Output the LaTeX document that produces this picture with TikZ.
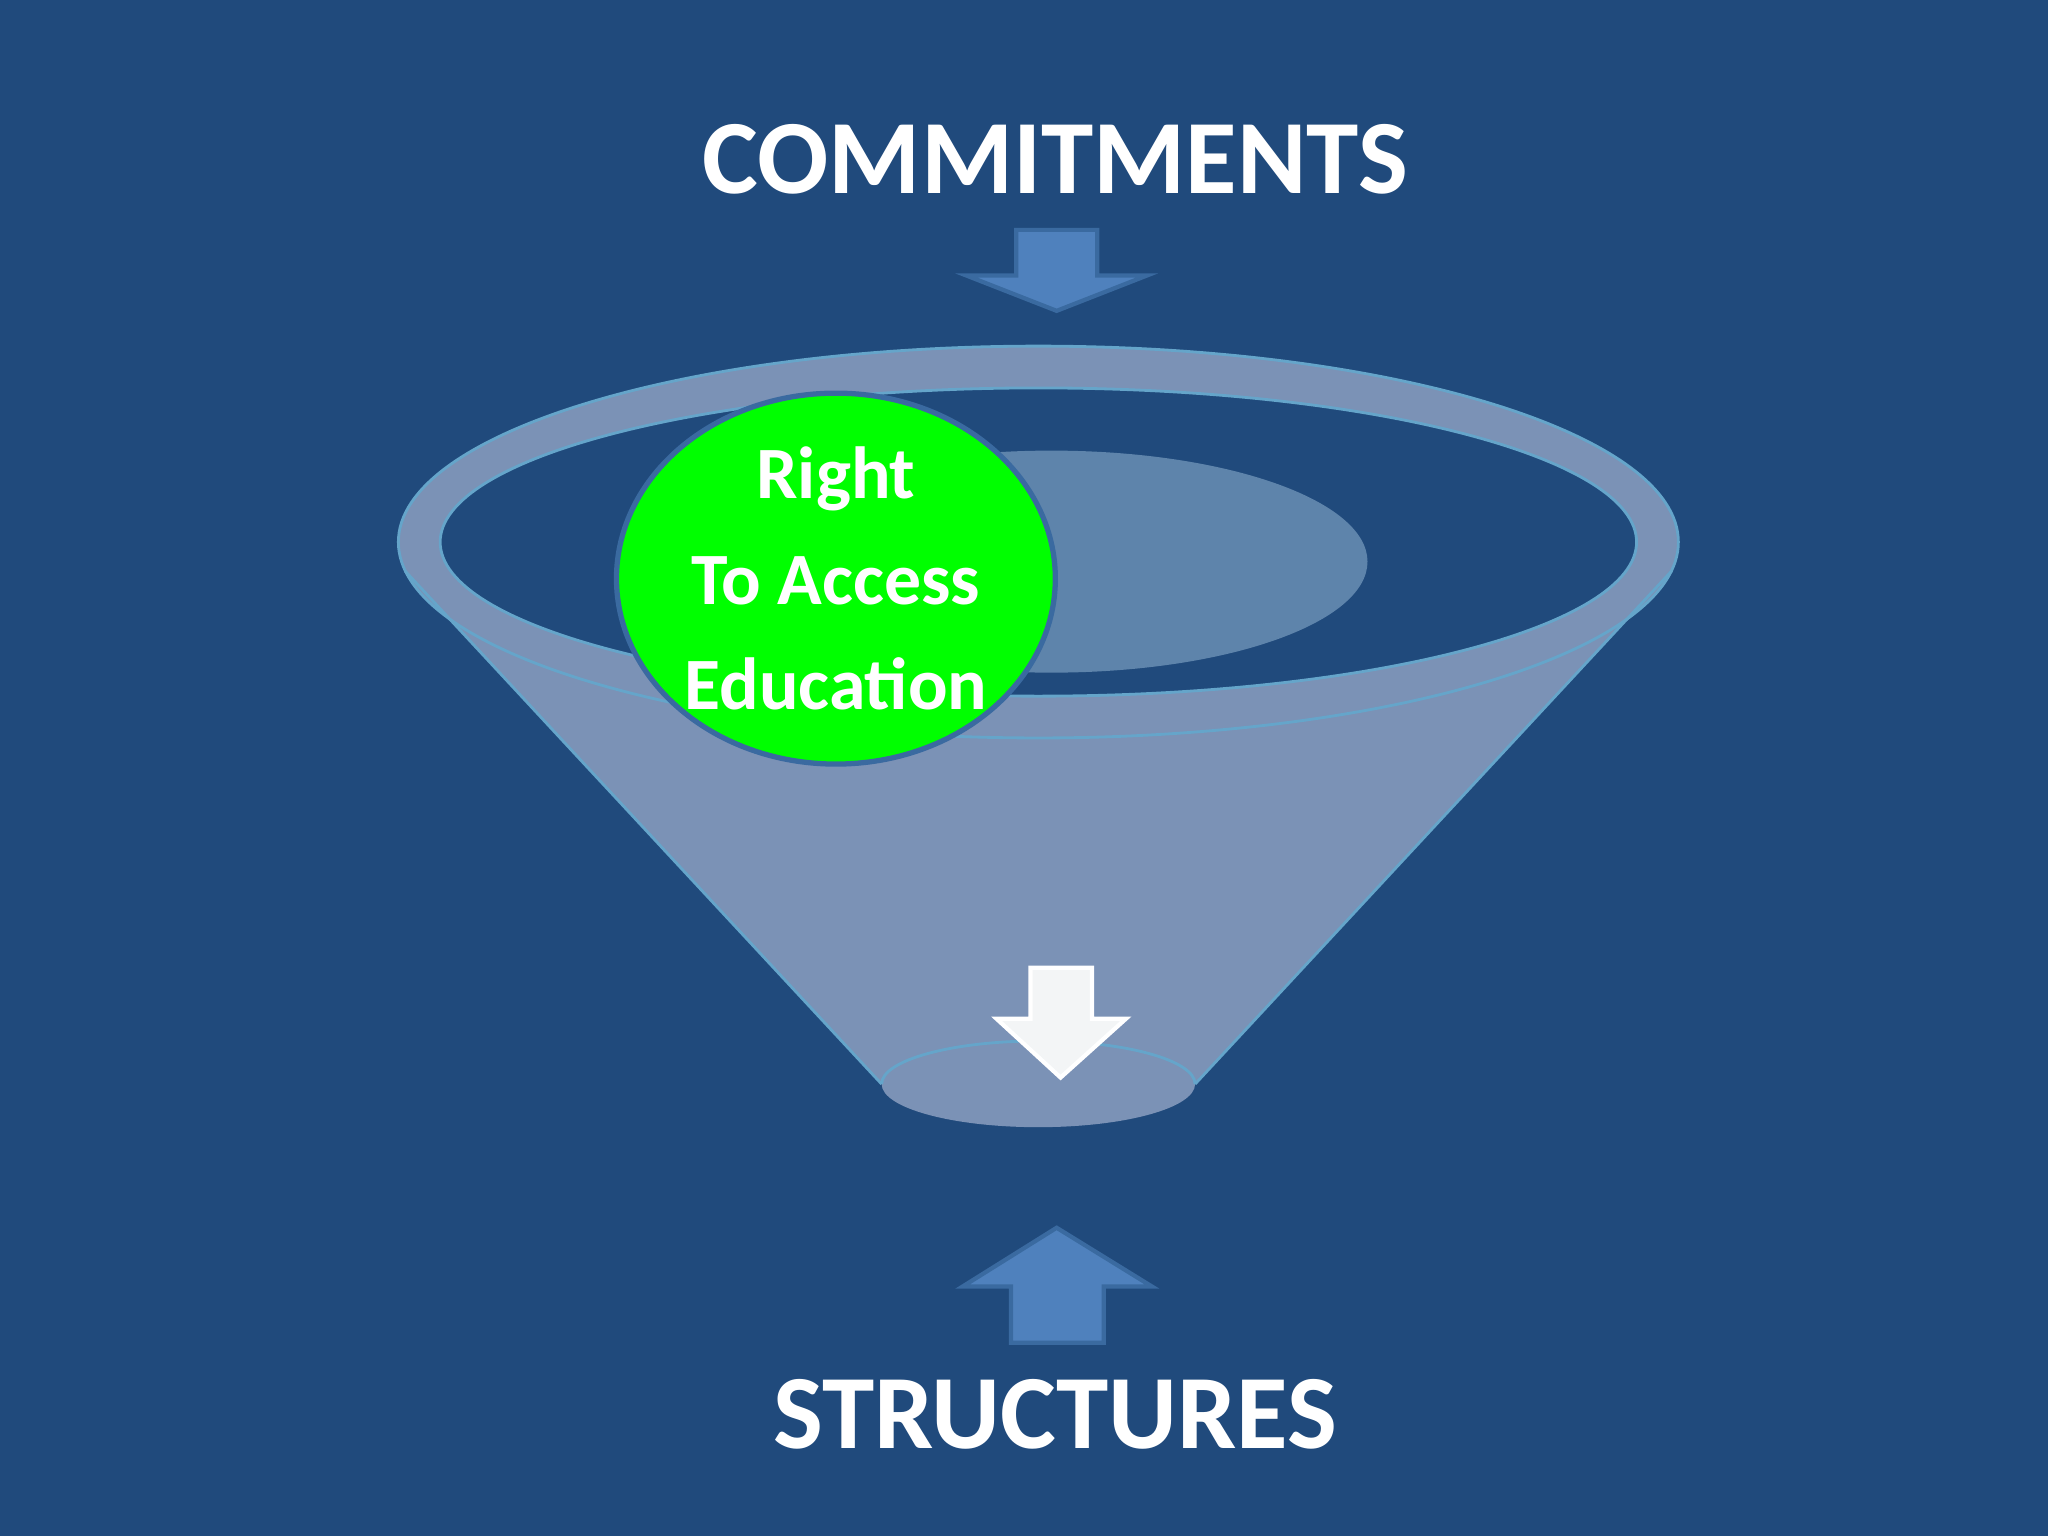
\documentclass[tikz,border=0pt]{standalone}
\usepackage{fontspec}
\setmainfont{Carlito}
\definecolor{bg}{HTML}{204A7C}
\definecolor{fun}{HTML}{7B92B6}
\definecolor{inner}{HTML}{5E84AB}
\definecolor{arr}{HTML}{4F81BD}
\definecolor{arrb}{HTML}{3A6AA0}
\begin{document}
\begin{tikzpicture}[x=0.013061cm,y=-0.013061cm,
  title/.style={text=white,font=\fontsize{30}{36}\selectfont\bfseries},
  bluearrow/.style={fill=arr,draw=arrb,line width=1.2pt},
  edge/.style={draw=cyan!40!fun,line width=0.8pt}]
\fill[bg] (0,0) rectangle (1568,1176);
\useasboundingbox (0,0) rectangle (1568,1176);
\node[title] (c) at (808,122) {COMMITMENTS};
\node[title] (s) at (808,1083) {STRUCTURES};
% top arrow
\draw[bluearrow] (778,176) -- (840,176) -- (840,211) -- (878,211) -- (809,238) -- (740,211) -- (778,211) -- cycle;
% funnel
\fill[fun] (310,437) -- (675,830) -- (915,830) -- (1280,437) -- cycle;
\fill[fun] (795,415) ellipse [x radius=490,y radius=150];
\fill[fun] (795,830) ellipse [x radius=120,y radius=33];
\draw[edge] (310,437) -- (675,830);
\draw[edge] (1280,437) -- (915,830);
\draw[edge] (675,830) arc[start angle=180,end angle=360,x radius=120,y radius=33];
\draw[edge] (795,415) ellipse [x radius=490,y radius=150];
\fill[bg] (795,415) ellipse [x radius=458,y radius=118];
\draw[edge] (795,415) ellipse [x radius=458,y radius=118];
\fill[inner] (805,430) ellipse [x radius=242,y radius=85];
% green circle
\fill[green,draw=arrb,line width=1.5pt] (640,443) ellipse [x radius=168,y radius=142];
\node[text=white,align=center,font=\fontsize{21}{30}\selectfont\bfseries] (t) at (640,443) {Right\\To Access\\Education};
% white arrow
\draw[fill=white!90!cyan!60!gray!20,draw=white,line width=1.2pt] (789,741) -- (836,741) -- (836,780) -- (862,780) -- (812,825) -- (763,780) -- (789,780) -- cycle;
% bottom arrow
\draw[bluearrow] (809,940) -- (882,985) -- (845,985) -- (845,1028) -- (774,1028) -- (774,985) -- (737,985) -- cycle;
\end{tikzpicture}
\end{document}
